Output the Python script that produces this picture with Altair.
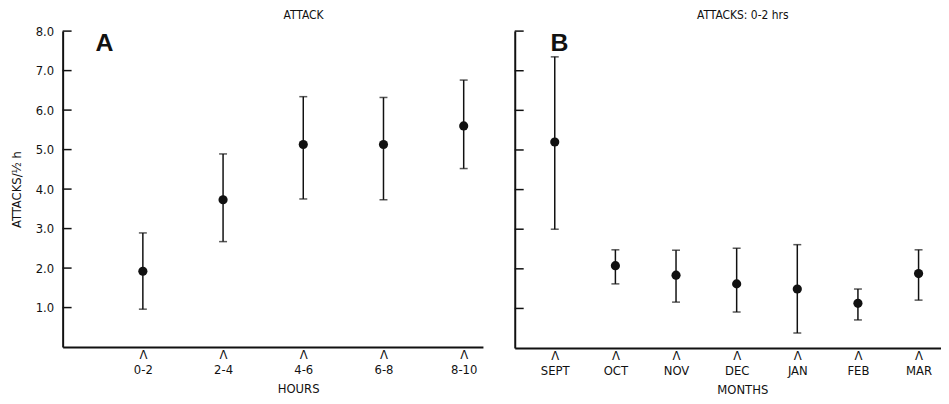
import json
import altair as alt
import pandas as pd

# ---- data ----
hours = ["0-2", "2-4", "4-6", "6-8", "8-10"]
hour_mean = [1.92, 3.73, 5.13, 5.13, 5.60]
hour_low = [0.96, 2.67, 3.75, 3.73, 4.52]
hour_high = [2.89, 4.89, 6.34, 6.32, 6.76]

months = ["SEPT", "OCT", "NOV", "DEC", "JAN", "FEB", "MAR"]
month_mean = [5.20, 2.08, 1.84, 1.62, 1.49, 1.13, 1.88]
month_low = [3.00, 1.62, 1.16, 0.91, 0.38, 0.71, 1.21]
month_high = [7.35, 2.48, 2.47, 2.52, 2.61, 1.49, 2.48]

y_ticks = [1, 2, 3, 4, 5, 6, 7, 8]

FONT = "'Liberation Sans Narrow', 'DejaVu Sans Condensed', 'Roboto Condensed', 'Arial Narrow', sans-serif"
INK = "#111111"

dfA = pd.DataFrame({"pos": list(range(1, len(hours) + 1)), "cat": hours,
                    "mean": hour_mean, "low": hour_low, "high": hour_high})
dfB = pd.DataFrame({"pos": list(range(1, len(months) + 1)), "cat": months,
                    "mean": month_mean, "low": month_low, "high": month_high})
dfT = pd.DataFrame({"v": y_ticks})


def panel(df, cats, xdomain, width, height, xtitle, title_x, ytitle, show_ylabels,
          letter, letter_x, title_text, title_dx, title_offset):
    label_expr = "['\u039b', " + json.dumps(cats) + "[datum.value - 1]]"
    xenc = alt.X("pos:Q",
                 scale=alt.Scale(domain=xdomain, nice=False, zero=False),
                 axis=alt.Axis(values=list(range(1, len(cats) + 1)), labelExpr=label_expr,
                               title=xtitle, titleX=title_x, ticks=False, grid=False,
                               labelPadding=2, labelLineHeight=15, labelBaseline="top",
                               titlePadding=6, labelFlush=False))
    if show_ylabels:
        yaxis = alt.Axis(values=y_ticks, format=".1f", title=ytitle, ticks=False, grid=False,
                         labelPadding=9, titlePadding=12)
    else:
        yaxis = alt.Axis(values=y_ticks, title=None, ticks=False, grid=False, labels=False)
    yscale = alt.Scale(domain=[0, 8], nice=False, zero=True)

    base = alt.Chart(df)
    rules = base.mark_rule(color=INK, strokeWidth=1.5).encode(
        x=xenc, y=alt.Y("low:Q", scale=yscale, axis=yaxis), y2="high:Q")
    cap_lo = base.mark_tick(orient="horizontal", size=8, thickness=1.5, color=INK).encode(
        x="pos:Q", y="low:Q")
    cap_hi = base.mark_tick(orient="horizontal", size=8, thickness=1.5, color=INK).encode(
        x="pos:Q", y="high:Q")
    dots = base.mark_circle(size=85, color=INK, opacity=1).encode(x="pos:Q", y="mean:Q")
    ticks = alt.Chart(dfT).mark_rule(color=INK, strokeWidth=1.5).encode(
        x=alt.value(0), x2=alt.value(9), y=alt.Y("v:Q"))
    lab = alt.Chart(pd.DataFrame({"t": [letter]})).mark_text(
        font="Liberation Sans, DejaVu Sans, sans-serif", fontSize=25, fontWeight="bold",
        color=INK, align="center", baseline="middle").encode(
        text="t:N", x=alt.value(letter_x), y=alt.value(12))
    return alt.layer(rules, cap_lo, cap_hi, dots, ticks, lab).properties(
        width=width, height=height,
        title=alt.TitleParams(text=title_text, anchor="middle", frame="group", dx=title_dx,
                              offset=title_offset, font=FONT, fontSize=12,
                              fontWeight="normal", color=INK))


pA = panel(dfA, hours, [0, 5.24], 423, 318, "HOURS", 237, "ATTACKS/\u00bd h", True,
           "A", 42, "ATTACK", 31, 3)
pB = panel(dfB, months, [0.34, 7.37], 429, 319, "MONTHS", 229, None, False,
           "B", 45, "ATTACKS: 0-2 hrs", 15, 8)

chart = alt.hconcat(pA, pB, spacing=31).properties(
    padding={"left": 2, "top": 0, "right": 0, "bottom": 0}
).configure_view(stroke=None).configure_axis(
    domainColor=INK, domainWidth=2, labelFont=FONT, labelFontSize=13, labelColor=INK,
    titleFont=FONT, titleFontSize=13, titleFontWeight="normal", titleColor=INK
)

chart.save("out.html", embed_options={"renderer": "svg", "actions": False})
